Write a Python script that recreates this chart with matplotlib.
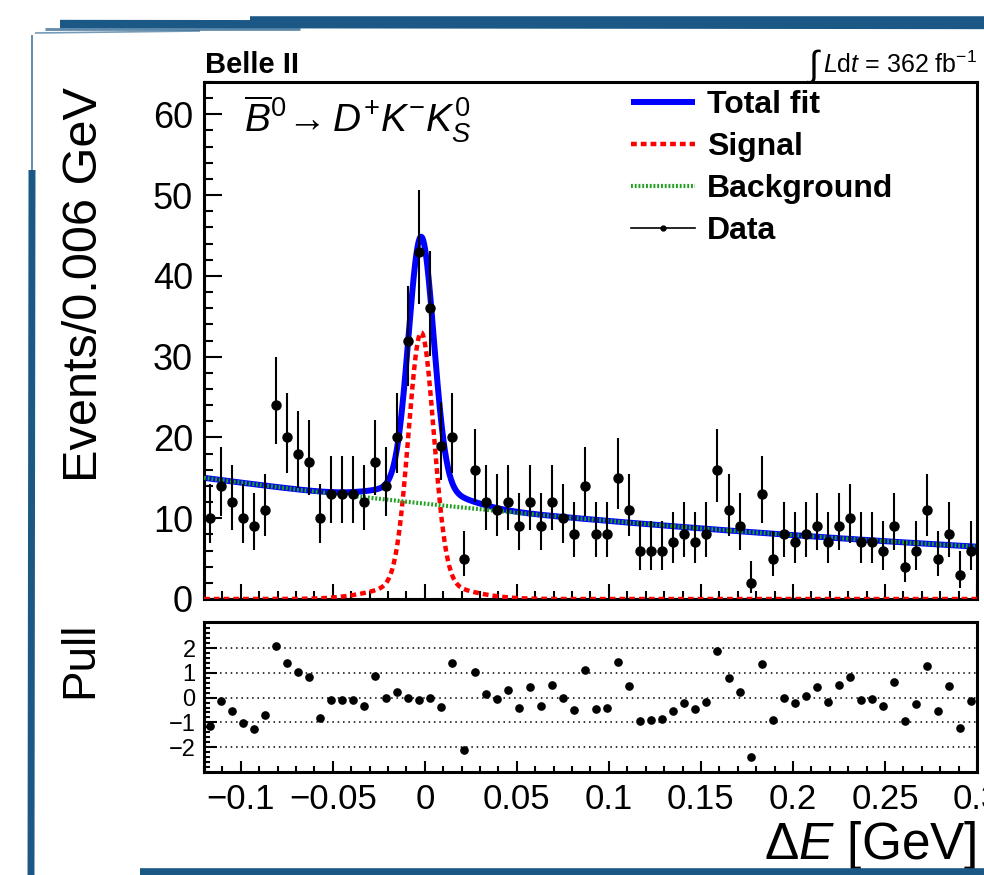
import numpy as np
import matplotlib
matplotlib.use('Agg')
import matplotlib.pyplot as plt
from matplotlib.lines import Line2D
from matplotlib.ticker import MultipleLocator, FixedLocator

# ---------------- data ----------------
x_lo, x_hi, n_bins = -0.12, 0.30, 70
counts = [10, 14, 12, 10, 9, 11, 24, 20, 18, 17, 10, 13, 13, 13, 12, 17, 14, 20, 32, 43, 36,
          19, 20, 5, 16, 12, 11, 12, 9, 12, 9, 12, 10, 8, 14, 8, 8, 15, 11, 6, 6, 6, 7, 8, 7, 8, 16, 11, 9,
          2, 13, 5, 8, 7, 8, 9, 7, 9, 10, 7, 7, 6, 9, 4, 6, 11, 5, 8, 3, 6]
pulls = [-1.14, -0.15, -0.55, -1.02, -1.26, -0.70, 2.07, 1.40, 1.02, 0.83,
         -0.82, -0.11, -0.11, -0.11, -0.32, 0.86, -0.03, 0.24, -0.03, -0.08,
         -0.03, -0.39, 1.38, -2.13, 1.05, 0.15, -0.05, 0.30, -0.43, 0.42,
         -0.35, 0.51, -0.03, -0.51, 1.10, -0.45, -0.40, 1.42, 0.48, -0.93,
         -0.90, -0.87, -0.52, -0.23, -0.47, -0.16, 1.87, 0.78, 0.21, -2.38,
         1.36, -0.90, 0.00, -0.23, 0.07, 0.44, -0.16, 0.51, 0.82, -0.09,
         -0.05, -0.32, 0.64, -0.94, -0.26, 1.28, -0.52, 0.48, -1.23, -0.15]

# fit model parameters
bkg_norm, bkg_slope = 11.8, -2.0
sig_mean = -0.002
sig_core_amp, sig_core_sigma = 31.0, 0.0068
sig_tail_amp, sig_tail_sigma = 2.0, 0.022

x_ticks = [-0.1, -0.05, 0, 0.05, 0.1, 0.15, 0.2, 0.25, 0.3]
x_tick_labels = ['\u22120.1', '\u22120.05', '0', '0.05', '0.1', '0.15', '0.2', '0.25', '0.3']
y_ticks = [0, 10, 20, 30, 40, 50, 60]
pull_ticks = [-2, -1, 0, 1, 2]
pull_tick_labels = ['\u22122', '\u22121', '0', '1', '2']

# ---------------- style ----------------
plt.rcParams['font.family'] = ['Liberation Sans', 'DejaVu Sans']
plt.rcParams['mathtext.fontset'] = 'custom'
plt.rcParams['mathtext.rm'] = 'Liberation Sans'
plt.rcParams['mathtext.it'] = 'Liberation Sans:italic'
plt.rcParams['mathtext.bf'] = 'Liberation Sans:bold'

edges = np.linspace(x_lo, x_hi, n_bins + 1)
centers = 0.5 * (edges[:-1] + edges[1:])
n = np.array(counts, dtype=float)
err_hi = (n + 1 + np.sqrt(n + 0.75)) - n
err_lo = n - n * (1 - 1 / (9 * n) - 1 / (3 * np.sqrt(n))) ** 3

xf = np.linspace(x_lo, x_hi, 1500)
bkg = bkg_norm * np.exp(bkg_slope * xf)
sig = (sig_core_amp * np.exp(-0.5 * ((xf - sig_mean) / sig_core_sigma) ** 2)
       + sig_tail_amp * np.exp(-0.5 * ((xf - sig_mean) / sig_tail_sigma) ** 2))
tot = sig + bkg

W, H = 984, 875
fig = plt.figure(figsize=(W / 100, H / 100), dpi=100)
fig.patch.set_facecolor('white')

ax = fig.add_axes([204 / W, 1 - 599 / H, 773 / W, 517 / H])
axp = fig.add_axes([204 / W, 1 - 772 / H, 773 / W, 150 / H])

# main panel
l_tot, = ax.plot(xf, tot, color='#0000ff', lw=4.3, solid_capstyle='butt', zorder=2)
l_sig, = ax.plot(xf, sig, color='#ff0000', lw=3.2, dashes=(1.3, 0.9), dash_capstyle='butt', zorder=3)
l_bkg, = ax.plot(xf, bkg, color='#1fa01f', lw=3.0, dashes=(0.45, 0.45), dash_capstyle='butt', zorder=4)
ax.errorbar(centers, n, yerr=[err_lo, err_hi], fmt='o', color='black', ms=6.5,
            elinewidth=1.5, capsize=0, zorder=5)

ax.set_xlim(x_lo, x_hi)
ax.set_ylim(0, 64)
ax.xaxis.set_major_locator(FixedLocator(x_ticks))
ax.xaxis.set_minor_locator(MultipleLocator(0.01))
ax.yaxis.set_major_locator(FixedLocator(y_ticks))
ax.yaxis.set_minor_locator(MultipleLocator(2))
ax.tick_params(axis='both', which='both', direction='in', width=1.5)
ax.tick_params(axis='y', which='major', length=13, labelsize=26, pad=8)
ax.tick_params(axis='y', which='minor', length=6.5)
ax.tick_params(axis='x', which='major', length=11, labelbottom=False)
ax.tick_params(axis='x', which='minor', length=5.5)
for s in ax.spines.values():
    s.set_linewidth(2.2)
ax.set_ylabel('Events/0.006 GeV', fontsize=35, loc='top')
ax.yaxis.set_label_coords(-0.1255, 0.99)

ax.text(0.052, 0.903, r'$\overline{B}^{\mathit{0}}\!\rightarrow D^{+}K^{-}K^{\mathit{0}}_{S}$',
        transform=ax.transAxes, fontsize=28, ha='left', va='baseline')

data_handle = Line2D([], [], color='black', lw=1.2, marker='o', ms=3.5)
leg = ax.legend([l_tot, l_sig, l_bkg, data_handle], ['Total fit', 'Signal', 'Background', 'Data'],
                loc='upper left', bbox_to_anchor=(0.552, 0.985), frameon=False,
                prop={'weight': 'bold', 'size': 23}, handlelength=2.0, handletextpad=0.4,
                labelspacing=0.38, borderpad=0.0, borderaxespad=0.0)

fig.text(205 / W, 1 - 73 / H, 'Belle II', fontsize=21, fontweight='bold', ha='left', va='baseline')
lumi = fig.text(977 / W, 1 - 73 / H, r'$L\mathrm{d}t$ = 362 fb$^{-1}$', fontsize=18,
                ha='right', va='baseline')
fig.canvas.draw()
bb = lumi.get_window_extent(renderer=fig.canvas.get_renderer())
fig.text((bb.x0 - 1) / W, 1 - 76 / H, r'$\int$', fontsize=26, ha='right', va='baseline')

# pull panel
axp.plot(centers, pulls, 'o', color='black', ms=5.2, zorder=3)
for v in pull_ticks:
    axp.axhline(v, color='black', lw=1.1, ls=(0, (1, 2.5)), zorder=1)
axp.set_xlim(x_lo, x_hi)
axp.set_ylim(-3.0, 3.05)
axp.xaxis.set_major_locator(FixedLocator(x_ticks))
axp.set_xticklabels(x_tick_labels)
axp.xaxis.set_minor_locator(MultipleLocator(0.01))
axp.yaxis.set_major_locator(FixedLocator(pull_ticks))
axp.set_yticklabels(pull_tick_labels)
axp.yaxis.set_minor_locator(MultipleLocator(0.2))
axp.tick_params(axis='both', which='both', direction='in', width=1.5)
axp.tick_params(axis='y', which='major', length=9, labelsize=17, pad=6)
axp.tick_params(axis='y', which='minor', length=4.5)
axp.tick_params(axis='x', which='major', length=8, labelsize=25, pad=8)
axp.tick_params(axis='x', which='minor', length=4)
for s in axp.spines.values():
    s.set_linewidth(2.2)
axp.set_ylabel('Pull', fontsize=33, loc='top')
axp.yaxis.set_label_coords(-0.131, 1.0)
axp.set_xlabel(r'$\Delta E$ [GeV]', fontsize=37, loc='right')
axp.xaxis.set_label_coords(1.0, -0.31)

# decorative brush strokes of the slide frame
blue = '#1b5886'
def stroke(x0, y0, x1, y1, lw, alpha=1.0):
    fig.add_artist(Line2D([x0 / W, x1 / W], [1 - y0 / H, 1 - y1 / H], transform=fig.transFigure,
                          color=blue, lw=lw, alpha=alpha, solid_capstyle='butt'))
stroke(60, 24, 984, 25, 6.0)
stroke(45, 29, 300, 29, 2.0, 0.7)
stroke(250, 19, 984, 19, 4.0)
stroke(35, 33, 200, 31, 1.2, 0.6)
stroke(32, 35, 32, 170, 1.2, 0.8)
stroke(32, 170, 31, 875, 5.0)
stroke(140, 872, 984, 872, 5.5)

fig.savefig('out.png', dpi=100, facecolor='white')
